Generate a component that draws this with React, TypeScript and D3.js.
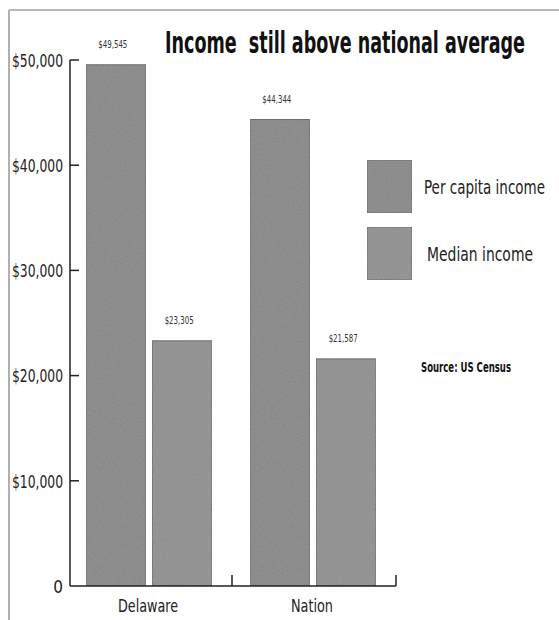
import React from "react";
import * as d3 from "d3";

const categories = ["Delaware", "Nation"];
const seriesNames = ["Per capita income", "Median income"];
const perCapita = [49545, 44344];
const median = [23305, 21587];
const yTicks = [0, 10000, 20000, 30000, 40000, 50000];
const title = "Income  still above national average";
const source = "Source: US Census";

const W = 559;
const H = 620;
const NARROW = "'DejaVu Sans', sans-serif";

export default function App() {
  const y = d3.scaleLinear().domain([0, 50000]).range([586, 60]);
  const x0 = d3.scaleBand<string>().domain(categories).range([68, 396]);
  const x1 = d3.scaleBand<string>().domain(seriesNames).range([18, 144]).paddingInner(0.1);
  const colors = ["#838383", "#8c8c8c"];
  const values = [perCapita, median];
  const fmt = (v: number) => "$" + d3.format(",")(v);
  const cond = { fontStretch: "condensed", whiteSpace: "pre" } as React.CSSProperties;

  return (
    <svg width={W} height={H} style={{ position: "absolute", left: 0, top: 0, background: "#fff" }}>
      <defs>
        <filter id="noise" x="0" y="0" width="100%" height="100%">
          <feTurbulence type="fractalNoise" baseFrequency="0.9" numOctaves="2" seed="3" result="t" />
          <feColorMatrix in="t" type="matrix" values="0 0 0 0 0.45  0 0 0 0 0.45  0 0 0 0 0.45  0 0 0 0.35 0" result="n" />
          <feComposite in="n" in2="SourceGraphic" operator="in" result="nc" />
          <feMerge>
            <feMergeNode in="SourceGraphic" />
            <feMergeNode in="nc" />
          </feMerge>
        </filter>
      </defs>
      {/* frame */}
      <line x1={9} y1={10} x2={9} y2={H} stroke="#b0b0b0" strokeWidth={2} />
      <line x1={9} y1={10} x2={W} y2={10} stroke="#b8b8b8" strokeWidth={2} />

      {/* title */}
      <text x={165} y={53} fontFamily={NARROW} fontWeight="bold" fontSize={30} fill="#111" style={cond}
        textLength={360} lengthAdjust="spacingAndGlyphs">{title}</text>

      {/* y axis */}
      <line x1={70} y1={y(50000)} x2={70} y2={y(0)} stroke="#222" strokeWidth={1.5} />
      {yTicks.map((t) => (
        <g key={t}>
          {t > 0 && <line x1={70} x2={79} y1={y(t)} y2={y(t)} stroke="#222" strokeWidth={1.5} />}
          {t === 0 ? (
            <text x={63} y={y(t)} dy="0.4em" textAnchor="end" fontFamily={NARROW} fontSize={17} fill="#222" style={cond}>0</text>
          ) : (
            <text x={63} y={y(t)} dy="0.4em" textAnchor="end" fontFamily={NARROW} fontSize={17} fill="#222" style={cond}
              textLength={51} lengthAdjust="spacingAndGlyphs">{fmt(t)}</text>
          )}
        </g>
      ))}

      {/* bars */}
      {categories.map((c, ci) => (
        <g key={c} transform={`translate(${x0(c)},0)`}>
          {seriesNames.map((s, si) => {
            const v = values[si][ci];
            const bx = x1(s)!;
            const bw = x1.bandwidth();
            return (
              <g key={s}>
                <rect x={bx} y={y(v)} width={bw} height={y(0) - y(v)} fill={colors[si]}
                  stroke="#5a5a5a" strokeWidth={1} filter="url(#noise)" />
                <text x={bx + bw / 2 - 3} y={y(v) - 17} textAnchor="middle" fontFamily={NARROW}
                  fontSize={11} fill="#333" style={cond} textLength={29} lengthAdjust="spacingAndGlyphs">{fmt(v)}</text>
              </g>
            );
          })}
          <text x={x0.bandwidth() / 2 - 2} y={612} textAnchor="middle" fontFamily={NARROW}
            fontSize={18} fill="#222" style={cond} textLength={c === "Delaware" ? 60 : 42}
            lengthAdjust="spacingAndGlyphs">{c}</text>
        </g>
      ))}

      {/* baseline */}
      <line x1={70} x2={396} y1={y(0)} y2={y(0)} stroke="#222" strokeWidth={1.5} />
      {categories.map((c) => (
        <line key={c} x1={x0(c)! + x0.bandwidth()} x2={x0(c)! + x0.bandwidth()} y1={y(0)} y2={y(0) - 11}
          stroke="#222" strokeWidth={1.5} />
      ))}

      {/* legend */}
      {seriesNames.map((s, i) => (
        <g key={s} transform={`translate(367,${160 + i * 67})`}>
          <rect x={0} y={0} width={45} height={53} fill={colors[i]} stroke="#5a5a5a" strokeWidth={1}
            filter="url(#noise)" />
          <text x={i === 0 ? 57 : 60} y={27} dy="0.35em" fontFamily={NARROW} fontSize={19} fill="#222" style={cond}
            textLength={i === 0 ? 121 : 106} lengthAdjust="spacingAndGlyphs">{s}</text>
        </g>
      ))}

      <text x={421} y={372} fontFamily={NARROW} fontWeight="bold" fontSize={13.5} fill="#111" style={cond}
        textLength={90} lengthAdjust="spacingAndGlyphs">{source}</text>
    </svg>
  );
}
